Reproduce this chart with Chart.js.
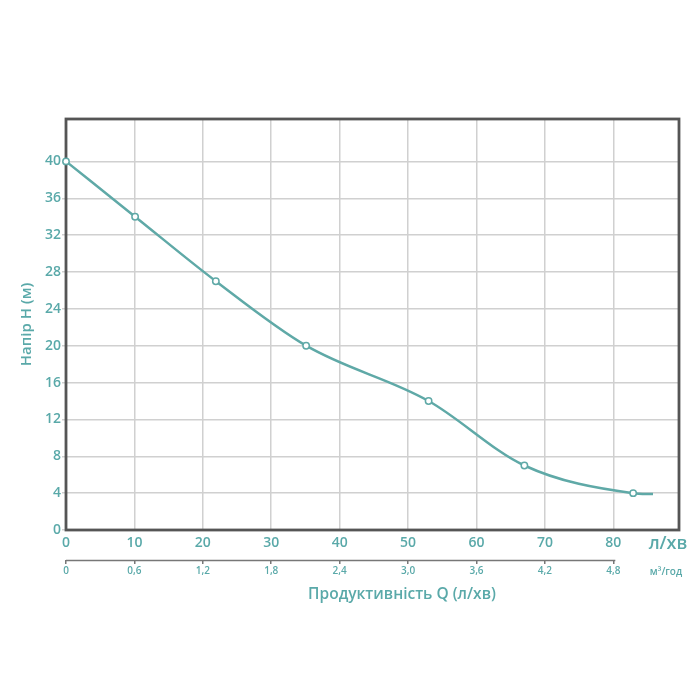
<!DOCTYPE html>
<html>
<head>
<meta charset="utf-8">
<script src="https://cdn.jsdelivr.net/npm/chart.js@4/dist/chart.umd.min.js"></script>
<style>
  body { margin: 0; background: #fff; }
  canvas { display: block; }
</style>
</head>
<body>
<canvas id="pumpChart" width="700" height="700"></canvas>
<script>
// Q (л/хв) and H (м); the last point has no marker
const flowLpm = [0, 10.1, 21.9, 35.1, 53.0, 67.0, 82.9, 85.8];
const headM = [40, 34, 27, 20, 14, 7, 4, 3.9];

const flowTicks = [0, 10, 20, 30, 40, 50, 60, 70, 80];
const headTicks = [0, 4, 8, 12, 16, 20, 24, 28, 32, 36, 40];
const m3Ticks = [0, 0.6, 1.2, 1.8, 2.4, 3.0, 3.6, 4.2, 4.8];
const m3Labels = ['0', '0,6', '1,2', '1,8', '2,4', '3,0', '3,6', '4,2', '4,8'];

const xMax = 89.6;
const yMax = 44.6;

const teal = '#5aa9a9';
const font = 'Open Sans';

// frame round the plot, short axis line for м³/год and the free texts
const extras = {
    id: 'extras',
    beforeDatasetsDraw(chart) {
        const { ctx, chartArea: a } = chart;
        ctx.save();
        ctx.strokeStyle = '#555';
        ctx.lineWidth = 2.8;
        ctx.strokeRect(a.left, a.top, a.right - a.left, a.bottom - a.top);
        ctx.restore();
    },
    afterDraw(chart) {
        const { ctx, chartArea: a } = chart;
        const s2 = chart.scales.x2;
        ctx.save();
        ctx.strokeStyle = '#777';
        ctx.lineWidth = 1.5;
        ctx.beginPath();
        ctx.moveTo(s2.getPixelForValue(0), s2.top + 0.5);
        ctx.lineTo(s2.getPixelForValue(m3Ticks[m3Ticks.length - 1]) + 2, s2.top + 0.5);
        ctx.stroke();

        ctx.fillStyle = teal;
        ctx.textAlign = 'center';
        ctx.textBaseline = 'middle';
        ctx.font = `600 18px "${font}"`;
        ctx.fillText('л/хв', a.right - 11, a.bottom + 14);
        ctx.font = `600 10px "${font}"`;
        ctx.fillText('м³/год', a.right - 13, s2.top + 12);
        ctx.font = `600 15.5px "${font}"`;
        ctx.fillText('Продуктивність Q (л/хв)', 402, 595);
        ctx.restore();
    }
};

const ctx = document.getElementById('pumpChart').getContext('2d');
new Chart(ctx, {
    type: 'line',
    data: {
        datasets: [{
            data: flowLpm.map((q, i) => ({ x: q, y: headM[i] })),
            borderColor: '#5fa9a7',
            borderWidth: 2.5,
            cubicInterpolationMode: 'monotone',
            pointRadius: (c) => c.dataIndex === flowLpm.length - 1 ? 0 : 3.2,
            pointBackgroundColor: '#fff',
            pointBorderColor: '#5fa9a7',
            pointBorderWidth: 1.5,
            clip: false
        }]
    },
    options: {
        responsive: false,
        animation: false,
        layout: { padding: { top: 119, right: 21, bottom: 90, left: 0 } },
        plugins: { legend: { display: false }, tooltip: { enabled: false } },
        scales: {
            x: {
                type: 'linear',
                position: 'bottom',
                weight: 0,
                min: 0,
                max: xMax,
                afterBuildTicks: (s) => { s.ticks = flowTicks.map(v => ({ value: v })); },
                afterFit: (s) => { s.height = 30; },
                border: { display: false },
                grid: { color: '#d0d0d0', lineWidth: 1.5, drawTicks: false },
                ticks: {
                    color: teal,
                    padding: 5,
                    maxRotation: 0,
                    font: { family: font, size: 14, weight: 600 }
                }
            },
            x2: {
                type: 'linear',
                position: 'bottom',
                weight: 1,
                min: 0,
                max: xMax * 0.06,
                afterBuildTicks: (s) => { s.ticks = m3Ticks.map(v => ({ value: v })); },
                afterFit: (s) => { s.height = 50; },
                border: { display: false },
                grid: { drawOnChartArea: false, drawTicks: true, tickLength: 4, color: '#777', lineWidth: 1.5 },
                ticks: {
                    color: teal,
                    padding: 1,
                    maxRotation: 0,
                    callback: (v, i) => m3Labels[i],
                    font: { family: font, size: 10, weight: 600 }
                }
            },
            y: {
                type: 'linear',
                min: 0,
                max: yMax,
                afterBuildTicks: (s) => { s.ticks = headTicks.map(v => ({ value: v })); },
                afterFit: (s) => { s.width = 66; },
                border: { display: false },
                grid: { color: '#d0d0d0', lineWidth: 1.5, tickLength: 4 },
                ticks: {
                    color: teal,
                    padding: 1,
                    font: { family: font, size: 14, weight: 600 }
                },
                title: {
                    display: true,
                    text: 'Напір Н (м)',
                    color: teal,
                    padding: { top: 18, bottom: 0 },
                    font: { family: font, size: 15, weight: 600 }
                }
            }
        }
    },
    plugins: [extras]
});
</script>
</body>
</html>
